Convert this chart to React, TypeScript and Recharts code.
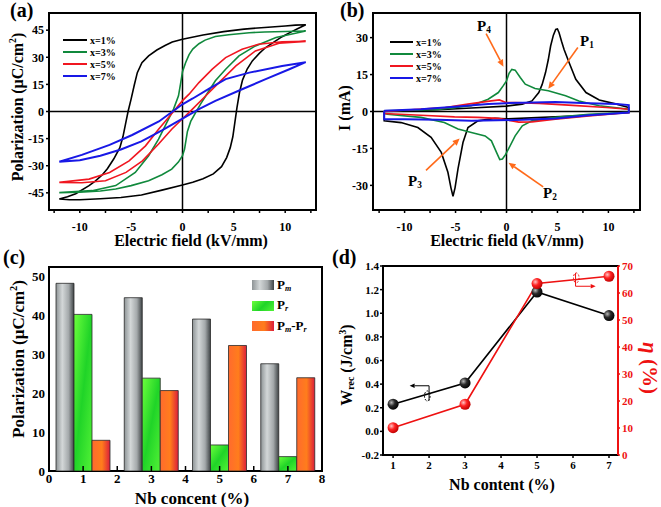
import React from 'react';
import {
  LineChart, Line, BarChart, Bar, XAxis, YAxis,
  ReferenceLine, ReferenceArea, ReferenceDot,
} from 'recharts';

const SERIF = "'Liberation Serif', 'Times New Roman', serif";

// (a) P-E loops: [E kV/mm, P uC/cm2], lower branch left->right, then upper branch right->left
const peLoop1 = [
  [-12, -48.4], [-11, -48.8], [-10, -48.8], [-8, -48.3], [-6, -47.6], [-4, -46.2], [-2, -43.5],
  [0, -40.7], [1, -39.2], [2, -37.2], [3, -34.5], [3.8, -30.5], [4.3, -25.5], [4.65, -20],
  [4.9, -14], [5.1, -6], [5.3, 2], [5.55, 10.5], [5.85, 17.5], [6.3, 23.5], [6.8, 28],
  [7.5, 32.3], [8.1, 35.4], [9, 38.8], [9.7, 41.4], [10.5, 43.8], [11.2, 45.8], [12, 48],
  [11, 47.8], [10, 47.3], [8, 46.5], [6, 45.6], [4, 44.2], [2, 42.3], [0, 40], [-1, 38.4],
  [-1.7, 36.5], [-2.5, 34], [-3.3, 30.8], [-3.95, 27], [-4.4, 21.5], [-4.7, 14.5], [-5, 7],
  [-5.3, 0], [-5.55, -7], [-5.8, -14], [-6.1, -20], [-6.7, -26.3], [-7.3, -31.5], [-7.8, -35],
  [-8.5, -38.5], [-9.1, -41], [-10.4, -45.5], [-11.2, -47.2], [-12, -48.4],
];
const peLoop3 = [
  [-12, -44.9], [-10, -44.7], [-8, -44], [-6.5, -42.9], [-5, -41], [-3.3, -38.3], [-2, -35],
  [-1.05, -31.9], [-0.4, -28], [0, -24.5], [0.2, -20.8], [0.48, -11], [0.8, -5.5], [1.29, -0.5],
  [1.8, 4.5], [2.27, 8.7], [3.2, 17], [4.2, 23.4], [5.5, 30.8], [7.1, 36.3], [9.1, 40.9],
  [11, 43.3], [12, 44.5],
  [10, 44.3], [8, 44], [6.5, 43.6], [4.5, 42.5], [3.2, 41.5], [2.2, 39.5], [1.6, 37.5],
  [1, 34.5], [0.64, 31.5], [0.3, 27], [0, 22], [-0.2, 15], [-0.39, 8.7], [-0.87, 1.3],
  [-1.52, -6], [-2.33, -15.3], [-3.3, -24.5], [-4.6, -33.7], [-6.5, -41], [-8.8, -43.8], [-12, -44.9],
];
const peLoop5 = [
  [-12, -39.2], [-9.8, -39.4], [-7.5, -38.3], [-5.5, -33.7], [-3.9, -27.3], [-2.33, -18],
  [-1.05, -9.8], [0, -4], [0.97, 1.3], [2.27, 8.7], [3.55, 16], [5.2, 25.2], [7.1, 33.5],
  [9.4, 37.8], [12, 38.8],
  [9.7, 38.6], [7.4, 37.2], [5.8, 34.4], [4.2, 29.8], [2.9, 23.4], [1.6, 16], [0.64, 9.6],
  [0, 6], [-1.1, -1.5], [-2.33, -9.8], [-3.6, -19], [-5.2, -27.3], [-7.1, -33.7], [-9.1, -37.4],
  [-12, -39.2],
];
const peLoop7 = [
  [-12, -27.8], [-10, -27], [-8, -24.5], [-6, -21], [-4, -16.5], [-2, -10.5], [0, -4],
  [1.6, 1.3], [3.2, 5.9], [5.8, 12.3], [8.1, 17.9], [10.4, 23.4], [12, 27.3],
  [9.7, 25.2], [6.5, 21.5], [4.2, 17.9], [2.6, 12.7], [1, 7.2], [0, 4], [-2.3, -5.5],
  [-4.9, -13], [-7.1, -18.5], [-9.8, -24], [-12, -27.8],
];

// (b) I-E curves: [E kV/mm, I mA]
const ieLoop1 = [
  [-12, 0], [-9, 0.3], [-6.7, 0.7], [-3.45, 1.4], [0, 2.2], [1.55, 3], [2.5, 4.3], [3.17, 7.7],
  [3.5, 11], [3.83, 15.8], [4.1, 21], [4.33, 26.6], [4.6, 31], [4.83, 33.3], [5, 33.5],
  [5.16, 32], [5.4, 28.5], [5.65, 25.2], [6.15, 19.8], [6.8, 13.1], [7.8, 7.7], [9.1, 4.7],
  [10.8, 3], [12, 1.6], [12, -0.4], [9, -1.2], [6.5, -1.8], [3, -2.5], [0, -3], [-1.15, -2.8],
  [-2.8, -3.8], [-3.78, -6.5], [-4.27, -12.6], [-4.76, -23.3], [-5.05, -31], [-5.25, -34.4],
  [-5.45, -31], [-5.75, -24.7], [-6.4, -16.6], [-7.4, -10.5], [-8.7, -6.5], [-10.35, -4.5],
  [-12, -3.8], [-12, 0],
];
const ieLoop3 = [
  [-12, 0.3], [-9, 0.5], [-6.7, 0.8], [-3.45, 2.3], [-1.8, 5], [-0.8, 7.7], [-0.33, 10.4],
  [0, 12.4], [0.25, 15.5], [0.52, 17.1], [0.85, 16.8], [1.35, 13.8], [1.84, 11.1], [2.8, 9.3],
  [4.1, 8.4], [5.8, 6.4], [7.1, 4.3], [9.1, 2.3], [12, 0.9], [12, -0.3], [8.1, -1.1],
  [4.8, -2.4], [2.5, -3.8], [1.55, -5.8], [0.85, -9.9], [0.2, -15.2], [-0.1, -17.5],
  [-0.4, -19.3], [-0.66, -19.5], [-0.98, -16.6], [-1.48, -11.9], [-2.1, -9.9], [-3.45, -8.5],
  [-4.76, -7.1], [-6.1, -4.5], [-8.4, -2.4], [-11.7, -1.1], [-12, -0.8], [-12, 0.3],
];
const ieLoop5 = [
  [-12, 0], [-9, 0.8], [-6, 1.6], [-3.8, 3], [-1.5, 4.3], [-0.7, 4.7], [0, 3.6], [0.85, 3.6],
  [3.2, 3.3], [6.5, 2.5], [9.8, 1.6], [12, 0.9], [12, -0.4], [8.1, -1.8], [4.8, -3.1],
  [2.5, -4.2], [1.2, -4.3], [0, -3.4], [-0.8, -2.8], [-2.8, -2.4], [-5.1, -2.2], [-8.4, -1.5],
  [-12, -0.8], [-12, 0],
];
const ieLoop7 = [
  [-12, 0.3], [-8.4, 0.9], [-5.1, 1.9], [-1.8, 3], [0, 3.4], [1.6, 3.6], [4.8, 3.9], [8.1, 3.4],
  [10.8, 3], [12, 2.6], [12, -0.4], [8.1, -1.5], [4.8, -2.8], [1.6, -3.4], [-3.45, -3.8],
  [-6.7, -3.4], [-10, -3.1], [-12, -3.1], [-12, 0.3],
];

const seriesNames = ['x=1%', 'x=3%', 'x=5%', 'x=7%'];
const seriesColors = ['#000000', '#10893c', '#f01620', '#1818e6'];

// (c) bars
const nbCategories = [1, 3, 5, 7];
const pmValues = [48.3, 44.6, 39.1, 27.6];
const prValues = [40.3, 23.9, 6.7, 3.7];
const pmMinusPr = [7.9, 20.7, 32.3, 24.0];
const cTicks = [0, 1, 2, 3, 4, 5, 6, 7, 8];

// (d) energy storage
const nbContent = [1, 3, 5, 7];
const wrecValues = [0.23, 0.41, 1.18, 0.98];
const etaValues = [10.1, 18.8, 63.5, 66.2];

const toPts = (arr: number[][]) => arr.map(([e, p]) => ({ e, p }));
const peLoops = [peLoop1, peLoop3, peLoop5, peLoop7].map(toPts);
const ieLoops = [ieLoop1, ieLoop3, ieLoop5, ieLoop7].map(toPts);

const fiveOnly = (v: number) => (Math.abs(v % 5) < 1e-6 ? String(v === 0 ? 0 : v) : '');
const tickFont = (size: number, fill = '#000') => ({ fontSize: size, fontWeight: 700, fill, fontFamily: SERIF });

const Title = ({ x, y, angle = 0, size = 16, color = '#000', children }: any) => (
  <div style={{
    position: 'absolute', left: x, top: y, transform: `translate(-50%, -50%) rotate(${angle}deg)`,
    whiteSpace: 'nowrap', fontFamily: SERIF, fontWeight: 700, fontSize: size, color, lineHeight: 1,
  }}>{children}</div>
);

const Legend4 = ({ x, y, len, gap }: any) => (
  <div style={{ position: 'absolute', left: x, top: y, fontFamily: SERIF, fontWeight: 700, fontSize: 10 }}>
    {seriesNames.map((n, i) => (
      <div key={n} style={{ display: 'flex', alignItems: 'center', height: gap }}>
        <div style={{ width: len, height: 2, background: seriesColors[i], marginRight: 3 }} />
        <span>{n}</span>
      </div>
    ))}
  </div>
);

const arrowShape = (color: string, head: number, width: number) => (props: any) => {
  const { x1, y1, x2, y2 } = props;
  const a = Math.atan2(y2 - y1, x2 - x1);
  const hx = x2 - head * Math.cos(a);
  const hy = y2 - head * Math.sin(a);
  const w = head * 0.45;
  const pts = `${x2},${y2} ${hx - w * Math.sin(a)},${hy + w * Math.cos(a)} ${hx + w * Math.sin(a)},${hy - w * Math.cos(a)}`;
  return (
    <g>
      <line x1={x1} y1={y1} x2={hx} y2={hy} stroke={color} strokeWidth={width} />
      <polygon points={pts} fill={color} />
    </g>
  );
};

const LoopPanel = ({ loops, yDomain, yTicks, yWidth, right, xDomain, children }: any) => (
  <LineChart width={330} height={250} margin={{ top: 13, right, bottom: 0, left: 0 }}>
    <XAxis dataKey="e" type="number" domain={xDomain} allowDataOverflow
      ticks={[-12.5, -10, -7.5, -5, -2.5, 0, 2.5, 5, 7.5, 10, 12.5]} interval={0}
      tickFormatter={fiveOnly} height={40} axisLine={false} tickSize={3} tickMargin={9}
      tickLine={{ stroke: '#000', strokeWidth: 1.5 }} tick={tickFont(12)} />
    <YAxis type="number" domain={yDomain} allowDataOverflow ticks={yTicks} interval={0}
      width={yWidth} axisLine={false} tickSize={3} tickMargin={2}
      tickLine={{ stroke: '#000', strokeWidth: 1.5 }} tick={tickFont(12)} />
    <ReferenceLine x={0} stroke="#000" strokeWidth={1.5} />
    <ReferenceLine y={0} stroke="#000" strokeWidth={1.5} />
    {loops.map((pts: any, i: number) => (
      <Line key={seriesNames[i]} data={pts} dataKey="p" type="linear" stroke={seriesColors[i]}
        strokeWidth={i === 3 ? 2 : 1.6} dot={false} activeDot={false} isAnimationActive={false} />
    ))}
    {children}
    <ReferenceArea x1={xDomain[0]} x2={xDomain[1]} y1={yDomain[0]} y2={yDomain[1]} fill="none"
      stroke="#000" strokeWidth={2} ifOverflow="visible" />
  </LineChart>
);

const C_BOTTOM = 221;
const XInTick = ({ x, y, payload }: any) => (
  <g>
    <line x1={x} x2={x} y1={C_BOTTOM} y2={C_BOTTOM - 5} stroke="#000" strokeWidth={1.5} />
    <text x={x} y={y} dy="0.71em" textAnchor="middle" style={tickFont(13)}>{payload.value}</text>
  </g>
);

const barData = nbCategories.map((n, i) => ({ n, pm: pmValues[i], pr: prValues[i], diff: pmMinusPr[i] }));
const lineData = nbContent.map((n, i) => ({ n, w: wrecValues[i], eta: etaValues[i] }));

const sphere = (id: string) => (p: any) => (
  <circle key={`${id}-${p.index}`} cx={p.cx} cy={p.cy} r={5.5} fill={`url(#${id})`} stroke="none" />
);

const Ellipse = (p: any) => (
  <ellipse cx={p.cx} cy={p.cy} rx={2.8} ry={5} fill="none" stroke={p.stroke} strokeWidth={1} strokeDasharray="2 1.5" />
);

const Sub = ({ children, italic }: any) => (
  <sub style={{ fontSize: '0.62em', fontStyle: italic ? 'italic' : 'normal', verticalAlign: '-0.25em' }}>{children}</sub>
);

const ORANGE = '#ff6a1a';

export default function App() {
  return (
    <div style={{ position: 'absolute', left: 0, top: 0, width: 661, height: 507, background: '#fff', fontFamily: SERIF }}>
      {/* (a) */}
      <div style={{ position: 'absolute', left: 0, top: 0 }}>
        <LoopPanel loops={peLoops} xDomain={[-13, 13]} yDomain={[-54.5, 54.5]}
          yTicks={[-45, -30, -15, 0, 15, 30, 45]} yWidth={49} right={14} />
      </div>
      <Legend4 x={63} y={34} len={24} gap={12} />
      <Title x={17} y={107} angle={-90}>Polarization (μC/cm<sup style={{ fontSize: '0.6em' }}>2</sup>)</Title>
      <Title x={191} y={241}>Electric field (kV/mm)</Title>

      {/* (b) */}
      <div style={{ position: 'absolute', left: 330, top: 0 }}>
        <LoopPanel loops={ieLoops} xDomain={[-13.1, 13.1]} yDomain={[-40, 40]}
          yTicks={[-30, -15, 0, 15, 30]} yWidth={43} right={20}>
          <ReferenceLine segment={[{ x: -2.0, y: 31.6 }, { x: -0.3, y: 18.2 }]} ifOverflow="visible"
            shape={arrowShape(ORANGE, 7, 1.6)} />
          <ReferenceLine segment={[{ x: 7.0, y: 26 }, { x: 4.1, y: 9.2 }]} ifOverflow="visible"
            shape={arrowShape(ORANGE, 7, 1.6)} />
          <ReferenceLine segment={[{ x: -7.9, y: -23.9 }, { x: -4.6, y: -11 }]} ifOverflow="visible"
            shape={arrowShape(ORANGE, 7, 1.6)} />
          <ReferenceLine segment={[{ x: 3.6, y: -30.6 }, { x: 0.2, y: -20.8 }]} ifOverflow="visible"
            shape={arrowShape(ORANGE, 7, 1.6)} />
        </LoopPanel>
      </div>
      <Legend4 x={390} y={36} len={23} gap={12} />
      <Title x={345} y={108} angle={-90}>I (mA)</Title>
      <Title x={507} y={241}>Electric field (kV/mm)</Title>
      <Title x={484} y={27} size={15}>P<Sub>4</Sub></Title>
      <Title x={587} y={42} size={15}>P<Sub>1</Sub></Title>
      <Title x={415} y={182} size={15}>P<Sub>3</Sub></Title>
      <Title x={550} y={194} size={15}>P<Sub>2</Sub></Title>

      {/* (c) */}
      <div style={{ position: 'absolute', left: 0, top: 250 }}>
        <BarChart width={330} height={257} data={barData} margin={{ top: 17, right: 8, bottom: 0, left: 0 }}
          barGap={0}>
          <defs>
            <linearGradient id="gPm" x1="0" y1="0" x2="1" y2="0">
              <stop offset="0%" stopColor="#8e9496" />
              <stop offset="35%" stopColor="#d3d7d8" />
              <stop offset="70%" stopColor="#a4a9ab" />
              <stop offset="100%" stopColor="#3f4446" />
            </linearGradient>
            <linearGradient id="gPr" x1="0" y1="0" x2="1" y2="1">
              <stop offset="0%" stopColor="#6cff3c" />
              <stop offset="50%" stopColor="#20d428" />
              <stop offset="100%" stopColor="#52f236" />
            </linearGradient>
            <linearGradient id="gDiff" x1="0" y1="0" x2="1" y2="0">
              <stop offset="0%" stopColor="#ff6a2e" />
              <stop offset="55%" stopColor="#ff7d1c" />
              <stop offset="100%" stopColor="#dc1f3a" />
            </linearGradient>
          </defs>
          <XAxis dataKey="n" type="number" domain={[0, 8]} allowDataOverflow ticks={cTicks}
            interval={0} height={36} axisLine={false} tickLine={false} tickSize={0} tickMargin={3} tick={<XInTick />} />
          <YAxis type="number" domain={[0, 52.5]} allowDataOverflow ticks={[0, 10, 20, 30, 40, 50]} interval={0}
            width={49} axisLine={false} tickLine={false} tickSize={0} tickMargin={4} tick={tickFont(13)} />
          <Bar dataKey="pm" barSize={18} fill="url(#gPm)" stroke="#2a2a2a" strokeWidth={0.8} isAnimationActive={false} />
          <Bar dataKey="pr" barSize={18} fill="url(#gPr)" stroke="#2a2a2a" strokeWidth={0.8} isAnimationActive={false} />
          <Bar dataKey="diff" barSize={18} fill="url(#gDiff)" stroke="#2a2a2a" strokeWidth={0.8} isAnimationActive={false} />
          <ReferenceArea x1={0} x2={8} y1={0} y2={52.5} fill="none" stroke="#000" strokeWidth={2} ifOverflow="visible" />
        </BarChart>
      </div>
      <div style={{ position: 'absolute', left: 252, top: 275, fontFamily: SERIF, fontWeight: 700, fontSize: 13 }}>
        {[
          ['linear-gradient(90deg,#8e9496,#d3d7d8 35%,#a4a9ab 70%,#3f4446)', <>P<Sub italic>m</Sub></>],
          ['linear-gradient(135deg,#6cff3c,#20d428 50%,#52f236)', <>P<Sub italic>r</Sub></>],
          ['linear-gradient(90deg,#ff6a2e,#ff7d1c 55%,#dc1f3a)', <>P<Sub italic>m</Sub>-P<Sub italic>r</Sub></>],
        ].map(([bg, label]: any, i) => (
          <div key={i} style={{ display: 'flex', alignItems: 'center', height: 20.5 }}>
            <div style={{ width: 22, height: 10, background: bg, marginRight: 3 }} />
            <span style={{ lineHeight: 1 }}>{label}</span>
          </div>
        ))}
      </div>
      <Title x={18} y={359} angle={-90} size={17}>Polarization (μC/cm<sup style={{ fontSize: '0.6em' }}>2</sup>)</Title>
      <Title x={192} y={498} size={17}>Nb concent (%)</Title>

      {/* (d) */}
      <div style={{ position: 'absolute', left: 330, top: 250 }}>
        <LineChart width={331} height={257} data={lineData} margin={{ top: 16, right: 0, bottom: 0, left: 0 }}>
          <defs>
            <radialGradient id="ballK" cx="35%" cy="35%" r="70%">
              <stop offset="0%" stopColor="#b8b8b8" />
              <stop offset="45%" stopColor="#2a2a2a" />
              <stop offset="100%" stopColor="#000" />
            </radialGradient>
            <radialGradient id="ballR" cx="35%" cy="35%" r="70%">
              <stop offset="0%" stopColor="#ffc4c4" />
              <stop offset="45%" stopColor="#f22" />
              <stop offset="100%" stopColor="#b00" />
            </radialGradient>
          </defs>
          <XAxis dataKey="n" type="number" domain={[0.72, 7.25]} allowDataOverflow ticks={[1, 2, 3, 4, 5, 6, 7]}
            interval={0} height={52} axisLine={false} tickSize={3} tickMargin={3}
            tickLine={{ stroke: '#000', strokeWidth: 1.5 }} tick={tickFont(11)} />
          <YAxis yAxisId="w" type="number" domain={[-0.2, 1.4]} allowDataOverflow
            ticks={[-0.2, 0, 0.2, 0.4, 0.6, 0.8, 1.0, 1.2, 1.4]} interval={0} tickFormatter={(v: number) => v.toFixed(1)}
            width={53} axisLine={false} tickSize={3} tickMargin={1}
            tickLine={{ stroke: '#000', strokeWidth: 1.5 }} tick={tickFont(11)} />
          <YAxis yAxisId="eta" orientation="right" type="number" domain={[0, 70]} allowDataOverflow
            ticks={[0, 10, 20, 30, 40, 50, 60, 70]} interval={0} width={43}
            axisLine={{ stroke: '#ee1111', strokeWidth: 2 }} tickSize={2} tickMargin={2}
            tickLine={{ stroke: '#ee1111', strokeWidth: 1.5 }} tick={tickFont(11, '#ee1111')} />
          <ReferenceArea yAxisId="w" x1={0.72} x2={7.25} y1={-0.2} y2={1.4} fill="none" stroke="#000" strokeWidth={2} ifOverflow="visible" />
          <Line yAxisId="w" dataKey="w" type="linear" stroke="#000" strokeWidth={1.6}
            dot={sphere('ballK')} activeDot={false} isAnimationActive={false} />
          <Line yAxisId="eta" dataKey="eta" type="linear" stroke="#ee1111" strokeWidth={1.6}
            dot={sphere('ballR')} activeDot={false} isAnimationActive={false} />
          <ReferenceLine yAxisId="w" segment={[{ x: 2.0, y: 0.386 }, { x: 1.46, y: 0.386 }]} ifOverflow="visible"
            shape={arrowShape('#000', 5, 1)} />
          <ReferenceLine yAxisId="w" segment={[{ x: 2.0, y: 0.386 }, { x: 2.0, y: 0.26 }]} stroke="#000" strokeWidth={1} />
          <ReferenceDot yAxisId="w" x={1.95} y={0.3} stroke="#000" shape={Ellipse} ifOverflow="visible" />
          <ReferenceLine yAxisId="eta" segment={[{ x: 6.07, y: 62.5 }, { x: 6.63, y: 62.5 }]} ifOverflow="visible"
            shape={arrowShape('#ee1111', 5, 1)} />
          <ReferenceLine yAxisId="eta" segment={[{ x: 6.07, y: 62.5 }, { x: 6.07, y: 67.4 }]} stroke="#ee1111" strokeWidth={1} />
          <ReferenceDot yAxisId="eta" x={6.09} y={65.6} stroke="#ee1111" shape={Ellipse} ifOverflow="visible" />
        </LineChart>
      </div>
      <Title x={347} y={365} angle={-90}>W<Sub>rec</Sub> (J/cm<sup style={{ fontSize: '0.6em' }}>3</sup>)</Title>
      <Title x={649} y={368} angle={90} size={21} color="#ee1111"><i>η</i> (%)</Title>
      <Title x={502} y={485}>Nb content (%)</Title>

      {/* panel letters */}
      <div style={{ position: 'absolute', left: 10, top: 0, fontWeight: 700, fontSize: 20, lineHeight: '20px' }}>(a)</div>
      <div style={{ position: 'absolute', left: 340, top: 0, fontWeight: 700, fontSize: 20, lineHeight: '20px' }}>(b)</div>
      <div style={{ position: 'absolute', left: 3, top: 247, fontWeight: 700, fontSize: 20, lineHeight: '20px' }}>(c)</div>
      <div style={{ position: 'absolute', left: 332, top: 247, fontWeight: 700, fontSize: 20, lineHeight: '20px' }}>(d)</div>
    </div>
  );
}
